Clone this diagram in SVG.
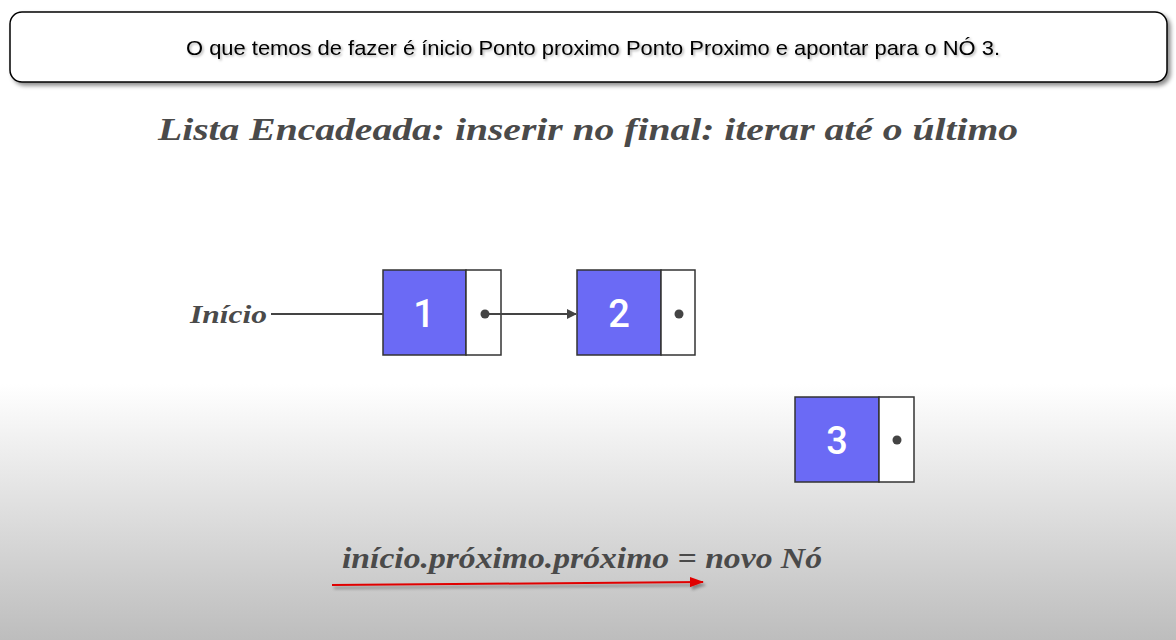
<svg xmlns="http://www.w3.org/2000/svg" width="1176" height="640" viewBox="0 0 1176 640">
<defs>
<linearGradient id="bg" x1="0" y1="0" x2="0" y2="1">
<stop offset="0" stop-color="#ffffff"/>
<stop offset="0.6" stop-color="#ffffff"/>
<stop offset="1" stop-color="#bdbdbd"/>
</linearGradient>
<filter id="sh" x="-5%" y="-20%" width="110%" height="150%">
<feDropShadow dx="3" dy="3" stdDeviation="2" flood-color="#000" flood-opacity="0.45"/>
</filter>
<filter id="shl" filterUnits="userSpaceOnUse" x="300" y="560" width="440" height="50">
<feDropShadow dx="2" dy="3" stdDeviation="1.5" flood-color="#000" flood-opacity="0.35"/>
</filter>
<filter id="tsh" filterUnits="userSpaceOnUse" x="150" y="20" width="900" height="50">
<feDropShadow dx="1.5" dy="1.5" stdDeviation="1" flood-color="#000" flood-opacity="0.3"/>
</filter>
<marker id="ah" markerWidth="10" markerHeight="10" refX="9" refY="5" orient="auto" markerUnits="userSpaceOnUse">
<path d="M0,0 L10,5 L0,10 Z" fill="#444"/>
</marker>
<marker id="ahr" markerWidth="14" markerHeight="10" refX="13" refY="5" orient="auto" markerUnits="userSpaceOnUse">
<path d="M0,0 L14,5 L0,10 Z" fill="#e00000"/>
</marker>
<style>
.ser{font-family:"Liberation Serif","DejaVu Serif",serif;font-style:italic;font-weight:bold;fill:#4a4a4a}
.val{fill:#6b6af5;stroke:#333;stroke-width:1.5}
.ptr{fill:#ffffff;stroke:#333;stroke-width:1.5}
.num{font-family:Roboto,"Liberation Sans",sans-serif;font-size:38px;font-weight:500;fill:#ffffff;text-anchor:middle}
.dot{fill:#444}
</style>
</defs>
<rect x="0" y="0" width="1176" height="640" fill="url(#bg)"/>
<g id="caption">
<rect x="10" y="12" width="1157" height="70" rx="12" ry="12" fill="#ffffff" stroke="#000" stroke-width="1.5" filter="url(#sh)"/>
<text x="186" y="55" font-family="Liberation Sans, Arial, sans-serif" font-size="21" fill="#000" textLength="814" lengthAdjust="spacingAndGlyphs" filter="url(#tsh)">O que temos de fazer é ínicio Ponto proximo Ponto Proximo e apontar para o NÓ 3.</text>
</g>
<text class="ser" x="588" y="140" font-size="31" text-anchor="middle" textLength="860" lengthAdjust="spacingAndGlyphs">Lista Encadeada: inserir no final: iterar até o último</text>
<g id="inicio">
<text class="ser" x="190" y="323" font-size="26" textLength="77" lengthAdjust="spacingAndGlyphs">Início</text>
</g>
<g id="node1">
<rect class="val" x="383" y="270" width="83" height="85"/>
<rect class="ptr" x="466" y="270" width="35" height="85"/>
<text class="num" x="424" y="327">1</text>
<circle class="dot" cx="485" cy="314" r="4.5"/>
</g>
<g id="node2">
<rect class="val" x="577" y="270" width="84" height="85"/>
<rect class="ptr" x="661" y="270" width="34" height="85"/>
<text class="num" x="619" y="327">2</text>
<circle class="dot" cx="679" cy="314" r="4.5"/>
</g>
<g id="node3">
<rect class="val" x="795" y="397" width="84" height="85"/>
<rect class="ptr" x="879" y="397" width="35" height="85"/>
<text class="num" x="837" y="454">3</text>
<circle class="dot" cx="897" cy="440" r="4.5"/>
</g>
<g id="connectors">
<line x1="271" y1="314" x2="383" y2="314" stroke="#444" stroke-width="1.8"/>
<line x1="485" y1="314" x2="576" y2="314" stroke="#444" stroke-width="1.8" marker-end="url(#ah)"/>
</g>
<g id="formula">
<text class="ser" x="342" y="568" font-size="29" textLength="480" lengthAdjust="spacingAndGlyphs">início.próximo.próximo = novo Nó</text>
<line x1="332" y1="585" x2="703" y2="582" stroke="#e00000" stroke-width="2" marker-end="url(#ahr)" filter="url(#shl)"/>
</g>
</svg>
